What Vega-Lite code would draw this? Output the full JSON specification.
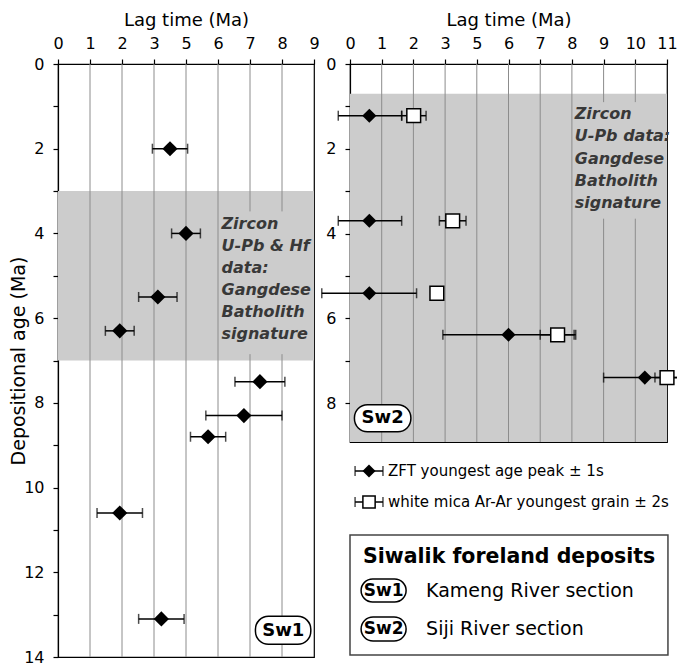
{
  "$schema": "https://vega.github.io/schema/vega-lite/v6.json",
  "padding": {"left": 9, "top": 10, "right": 0, "bottom": 0},
  "background": "white",
  "config": {
    "font": "DejaVu Sans",
    "view": {"stroke": "black", "strokeWidth": 1.2},
    "axis": {
      "grid": false, "domainColor": "black", "tickColor": "black", "labelColor": "black", "titleColor": "black",
      "labelFont": "DejaVu Sans", "titleFont": "DejaVu Sans", "labelFontSize": 16, "titleFontSize": 18,
      "titleFontWeight": "normal", "tickSize": 5, "domainWidth": 1.2, "tickWidth": 1.2, "labelOverlap": false
    }
  },
  "datasets": {
    "sw1": [
      {"age": 2.0, "lag": 3.5, "lo": 2.95, "hi": 4.05},
      {"age": 4.0, "lag": 4.0, "lo": 3.55, "hi": 4.45},
      {"age": 5.5, "lag": 3.12, "lo": 2.52, "hi": 3.72},
      {"age": 6.3, "lag": 1.93, "lo": 1.48, "hi": 2.38},
      {"age": 7.5, "lag": 6.31, "lo": 5.53, "hi": 7.09},
      {"age": 8.3, "lag": 5.81, "lo": 4.62, "hi": 7.0},
      {"age": 8.8, "lag": 4.69, "lo": 4.14, "hi": 5.24},
      {"age": 10.6, "lag": 1.93, "lo": 1.22, "hi": 2.64},
      {"age": 13.1, "lag": 3.23, "lo": 2.52, "hi": 3.94}
    ],
    "sw2": [
      {"age": 1.22, "method": "ZFT", "lag": 0.61, "lo": -0.37, "hi": 1.63},
      {"age": 1.22, "method": "mica", "lag": 2.01, "lo": 1.63, "hi": 2.4},
      {"age": 3.7, "method": "ZFT", "lag": 0.61, "lo": -0.37, "hi": 1.63},
      {"age": 3.7, "method": "mica", "lag": 3.24, "lo": 2.82, "hi": 3.66},
      {"age": 5.41, "method": "ZFT", "lag": 0.61, "lo": -0.89, "hi": 2.1},
      {"age": 5.41, "method": "mica", "lag": 2.74, "lo": 2.74, "hi": 2.74},
      {"age": 6.39, "method": "ZFT", "lag": 5.0, "lo": 2.93, "hi": 7.07},
      {"age": 6.39, "method": "mica", "lag": 6.55, "lo": 6.0, "hi": 7.12},
      {"age": 7.4, "method": "ZFT", "lag": 9.3, "lo": 8.0, "hi": 10.6},
      {"age": 7.4, "method": "mica", "lag": 10.0, "lo": 9.62, "hi": 10.38}
    ],
    "grid1": [
      {"lag": 1, "age": 0, "age2": 14},
      {"lag": 2, "age": 0, "age2": 14},
      {"lag": 3, "age": 0, "age2": 14},
      {"lag": 4, "age": 0, "age2": 14},
      {"lag": 5, "age": 0, "age2": 14},
      {"lag": 6, "age": 0, "age2": 3.48},
      {"lag": 6, "age": 6.85, "age2": 14},
      {"lag": 7, "age": 0, "age2": 3.48},
      {"lag": 7, "age": 6.85, "age2": 14}
    ],
    "grid2": [
      {"lag": 1, "age": 0, "age2": 8.92},
      {"lag": 2, "age": 0, "age2": 8.92},
      {"lag": 3, "age": 0, "age2": 8.92},
      {"lag": 4, "age": 0, "age2": 8.92},
      {"lag": 5, "age": 0, "age2": 8.92},
      {"lag": 6, "age": 0, "age2": 8.92},
      {"lag": 7, "age": 0, "age2": 8.92},
      {"lag": 8, "age": 0, "age2": 0.9},
      {"lag": 8, "age": 3.65, "age2": 8.92},
      {"lag": 9, "age": 0, "age2": 0.9},
      {"lag": 9, "age": 3.65, "age2": 8.92}
    ]
  },
  "bounds": "flush",
  "spacing": 36,
  "hconcat": [
    {
      "width": 256,
      "height": 593,
      "layer": [
        {
          "data": {"values": [{"lag": 0, "lag2": 8, "age": 3, "age2": 7}]},
          "mark": {"type": "rect", "color": "#cccccc"},
          "encoding": {
            "x": {"field": "lag", "type": "quantitative", "title": "Lag time (Ma)",
              "scale": {"domain": [0, 8], "nice": false, "zero": false},
              "axis": {"orient": "top", "values": [0, 1, 2, 3, 4, 5, 6, 7, 8], "tickCount": 30, "labelExpr": "'' + (datum.value >= 4 ? datum.value + 1 : datum.value)", "labelPadding": 8, "titlePadding": 6, "labelFlush": false, "labelOverlap": false, "labelBound": false}},
            "x2": {"field": "lag2"},
            "y": {"field": "age", "type": "quantitative", "title": "Depositional age (Ma)",
              "scale": {"domain": [0, 14], "reverse": true, "nice": false, "zero": false},
              "axis": {"values": [0, 1, 2, 3, 4, 5, 6, 7, 8, 9, 10, 11, 12, 13, 14], "tickCount": 30, "format": "d", "labelExpr": "datum.value % 2 == 0 ? '' + datum.value : ''", "labelPadding": 9, "titlePadding": -5, "titleFontSize": 19, "labelFlush": false, "labelOverlap": false}},
            "y2": {"field": "age2"}
          }
        },
        {
          "data": {"name": "grid1"},
          "mark": {"type": "rule", "color": "#8c8c8c", "strokeWidth": 1},
          "encoding": {
            "x": {"field": "lag", "type": "quantitative", "title": "Lag time (Ma)"},
            "y": {"field": "age", "type": "quantitative", "title": "Depositional age (Ma)"},
            "y2": {"field": "age2"}
          }
        },
        {
          "data": {"values": [{"lag": 5.11, "age": 3.77, "t": "Zircon\nU-Pb & Hf\ndata:\nGangdese\nBatholith\nsignature"}]},
          "mark": {"type": "text", "lineBreak": "\n", "lineHeight": 22, "align": "left", "baseline": "middle", "fontSize": 16, "fontWeight": "bold", "fontStyle": "italic", "color": "#383838"},
          "encoding": {
            "x": {"field": "lag", "type": "quantitative", "title": "Lag time (Ma)"},
            "y": {"field": "age", "type": "quantitative", "title": "Depositional age (Ma)"},
            "text": {"field": "t"}
          }
        },
        {
          "data": {"name": "sw1"},
          "mark": {"type": "rule", "color": "black", "strokeWidth": 1.5},
          "encoding": {
            "x": {"field": "lo", "type": "quantitative", "title": "Lag time (Ma)"},
            "x2": {"field": "hi"},
            "y": {"field": "age", "type": "quantitative", "title": "Depositional age (Ma)"}
          }
        },
        {
          "data": {"name": "sw1"},
          "mark": {"type": "tick", "orient": "vertical", "color": "black", "size": 10, "thickness": 1.5},
          "encoding": {
            "x": {"field": "lo", "type": "quantitative", "title": "Lag time (Ma)"},
            "y": {"field": "age", "type": "quantitative", "title": "Depositional age (Ma)"}
          }
        },
        {
          "data": {"name": "sw1"},
          "mark": {"type": "tick", "orient": "vertical", "color": "black", "size": 10, "thickness": 1.5},
          "encoding": {
            "x": {"field": "hi", "type": "quantitative", "title": "Lag time (Ma)"},
            "y": {"field": "age", "type": "quantitative", "title": "Depositional age (Ma)"}
          }
        },
        {
          "data": {"name": "sw1"},
          "mark": {"type": "point", "shape": "diamond", "filled": true, "color": "black", "opacity": 1, "size": 230},
          "encoding": {
            "x": {"field": "lag", "type": "quantitative", "title": "Lag time (Ma)"},
            "y": {"field": "age", "type": "quantitative", "title": "Depositional age (Ma)"}
          }
        },
        {
          "data": {"values": [{"lag": 6.17, "lag2": 7.9, "age": 13.04, "age2": 13.7}]},
          "mark": {"type": "rect", "fill": "white", "stroke": "black", "strokeWidth": 1.5, "cornerRadius": 13},
          "encoding": {
            "x": {"field": "lag", "type": "quantitative", "title": "Lag time (Ma)"},
            "x2": {"field": "lag2"},
            "y": {"field": "age", "type": "quantitative", "title": "Depositional age (Ma)"},
            "y2": {"field": "age2"}
          }
        },
        {
          "data": {"values": [{"lag": 7.04, "age": 13.38, "t": "Sw1"}]},
          "mark": {"type": "text", "align": "center", "baseline": "middle", "fontSize": 18, "fontWeight": "bold", "color": "black"},
          "encoding": {
            "x": {"field": "lag", "type": "quantitative", "title": "Lag time (Ma)"},
            "y": {"field": "age", "type": "quantitative", "title": "Depositional age (Ma)"},
            "text": {"field": "t"}
          }
        }
      ]
    },
    {
      "bounds": "flush",
      "spacing": 17,
      "vconcat": [
        {
          "width": 317,
          "height": 378,
          "layer": [
            {
              "data": {"values": [{"lag": 0, "lag2": 10, "age": 0.7, "age2": 8.92}]},
              "mark": {"type": "rect", "color": "#cccccc"},
              "encoding": {
                "x": {"field": "lag", "type": "quantitative", "title": "Lag time (Ma)",
                  "scale": {"domain": [0, 10], "nice": false, "zero": false},
                  "axis": {"orient": "top", "values": [0, 1, 2, 3, 4, 5, 6, 7, 8, 9, 10], "tickCount": 30, "labelExpr": "'' + (datum.value >= 4 ? datum.value + 1 : datum.value)", "labelPadding": 8, "titlePadding": 6, "labelFlush": false, "labelOverlap": false, "labelBound": false}},
                "x2": {"field": "lag2"},
                "y": {"field": "age", "type": "quantitative", "title": null,
                  "scale": {"domain": [0, 8.92], "reverse": true, "nice": false, "zero": false},
                  "axis": {"values": [0, 1, 2, 3, 4, 5, 6, 7, 8], "tickCount": 30, "format": "d", "labelExpr": "datum.value % 2 == 0 ? '' + datum.value : ''", "labelPadding": 9, "labelFlush": false, "labelOverlap": false}},
                "y2": {"field": "age2"}
              }
            },
            {
              "data": {"name": "grid2"},
              "mark": {"type": "rule", "color": "#8c8c8c", "strokeWidth": 1},
              "encoding": {
                "x": {"field": "lag", "type": "quantitative", "title": "Lag time (Ma)"},
                "y": {"field": "age", "type": "quantitative", "title": null},
                "y2": {"field": "age2"}
              }
            },
            {
              "data": {"values": [{"lag": 7.09, "age": 1.18, "t": "Zircon\nU-Pb data:\nGangdese\nBatholith\nsignature"}]},
              "mark": {"type": "text", "lineBreak": "\n", "lineHeight": 22.3, "align": "left", "baseline": "middle", "fontSize": 16, "fontWeight": "bold", "fontStyle": "italic", "color": "#383838"},
              "encoding": {
                "x": {"field": "lag", "type": "quantitative", "title": "Lag time (Ma)"},
                "y": {"field": "age", "type": "quantitative", "title": null},
                "text": {"field": "t"}
              }
            },
            {
              "data": {"name": "sw2"},
              "mark": {"type": "rule", "color": "black", "strokeWidth": 1.5},
              "encoding": {
                "x": {"field": "lo", "type": "quantitative", "title": "Lag time (Ma)"},
                "x2": {"field": "hi"},
                "y": {"field": "age", "type": "quantitative", "title": null}
              }
            },
            {
              "data": {"name": "sw2"},
              "mark": {"type": "tick", "orient": "vertical", "color": "black", "size": 10, "thickness": 1.5},
              "encoding": {
                "x": {"field": "lo", "type": "quantitative", "title": "Lag time (Ma)"},
                "y": {"field": "age", "type": "quantitative", "title": null}
              }
            },
            {
              "data": {"name": "sw2"},
              "mark": {"type": "tick", "orient": "vertical", "color": "black", "size": 10, "thickness": 1.5},
              "encoding": {
                "x": {"field": "hi", "type": "quantitative", "title": "Lag time (Ma)"},
                "y": {"field": "age", "type": "quantitative", "title": null}
              }
            },
            {
              "data": {"name": "sw2"},
              "transform": [{"filter": "datum.method == 'mica'"}],
              "mark": {"type": "point", "shape": "square", "filled": true, "fill": "white", "stroke": "black", "strokeWidth": 1.5, "opacity": 1, "size": 190},
              "encoding": {
                "x": {"field": "lag", "type": "quantitative", "title": "Lag time (Ma)"},
                "y": {"field": "age", "type": "quantitative", "title": null}
              }
            },
            {
              "data": {"name": "sw2"},
              "transform": [{"filter": "datum.method == 'ZFT'"}],
              "mark": {"type": "point", "shape": "diamond", "filled": true, "color": "black", "opacity": 1, "size": 200},
              "encoding": {
                "x": {"field": "lag", "type": "quantitative", "title": "Lag time (Ma)"},
                "y": {"field": "age", "type": "quantitative", "title": null}
              }
            },
            {
              "data": {"values": [{"lag": 0.14, "lag2": 1.92, "age": 8.04, "age2": 8.68}]},
              "mark": {"type": "rect", "fill": "white", "stroke": "black", "strokeWidth": 1.5, "cornerRadius": 13},
              "encoding": {
                "x": {"field": "lag", "type": "quantitative", "title": "Lag time (Ma)"},
                "x2": {"field": "lag2"},
                "y": {"field": "age", "type": "quantitative", "title": null},
                "y2": {"field": "age2"}
              }
            },
            {
              "data": {"values": [{"lag": 1.03, "age": 8.36, "t": "Sw2"}]},
              "mark": {"type": "text", "align": "center", "baseline": "middle", "fontSize": 18, "fontWeight": "bold", "color": "black"},
              "encoding": {
                "x": {"field": "lag", "type": "quantitative", "title": "Lag time (Ma)"},
                "y": {"field": "age", "type": "quantitative", "title": null},
                "text": {"field": "t"}
              }
            }
          ]
        },
        {
          "width": 317,
          "height": 200,
          "view": {"stroke": null},
          "encoding": {
            "x": {"field": "x", "type": "quantitative", "axis": null, "scale": {"domain": [0, 10], "nice": false, "zero": false}},
            "y": {"field": "y", "type": "quantitative", "axis": null, "scale": {"domain": [0, 10], "reverse": true, "nice": false, "zero": false}}
          },
          "layer": [
            {
              "data": {"values": [{"x": 0.16, "x2": 1.04, "y": 0.6}, {"x": 0.16, "x2": 1.04, "y": 2.15}]},
              "mark": {"type": "rule", "color": "black", "strokeWidth": 1.5},
              "encoding": {"x2": {"field": "x2"}}
            },
            {
              "data": {"values": [{"x": 0.16, "y": 0.6}, {"x": 1.04, "y": 0.6}, {"x": 0.16, "y": 2.15}, {"x": 1.04, "y": 2.15}]},
              "mark": {"type": "tick", "orient": "vertical", "color": "black", "size": 10, "thickness": 1.5}
            },
            {
              "data": {"values": [{"x": 0.6, "y": 0.6}]},
              "mark": {"type": "point", "shape": "diamond", "filled": true, "color": "black", "opacity": 1, "size": 170}
            },
            {
              "data": {"values": [{"x": 0.6, "y": 2.15}]},
              "mark": {"type": "point", "shape": "square", "filled": true, "fill": "white", "stroke": "black", "strokeWidth": 1.5, "opacity": 1, "size": 150}
            },
            {
              "data": {"values": [{"x": 1.2, "y": 0.6, "t": "ZFT youngest age peak ± 1s"}, {"x": 1.2, "y": 2.15, "t": "white mica Ar-Ar youngest grain ± 2s"}]},
              "mark": {"type": "text", "align": "left", "baseline": "middle", "fontSize": 15, "color": "black"},
              "encoding": {"text": {"field": "t"}}
            },
            {
              "data": {"values": [{"x": 0, "x2": 10.03, "y": 3.8, "y2": 9.8}]},
              "mark": {"type": "rect", "fill": "white", "stroke": "#444444", "strokeWidth": 1.5},
              "encoding": {"x2": {"field": "x2"}, "y2": {"field": "y2"}}
            },
            {
              "data": {"values": [{"x": 5.02, "y": 4.9, "t": "Siwalik foreland deposits"}]},
              "mark": {"type": "text", "align": "center", "baseline": "middle", "fontSize": 20.5, "fontWeight": "bold", "color": "black"},
              "encoding": {"text": {"field": "t"}}
            },
            {
              "data": {"values": [{"x": 0.35, "x2": 1.77, "y": 6.0, "y2": 7.15}, {"x": 0.35, "x2": 1.77, "y": 7.9, "y2": 9.1}]},
              "mark": {"type": "rect", "fill": "white", "stroke": "black", "strokeWidth": 1.5, "cornerRadius": 12},
              "encoding": {"x2": {"field": "x2"}, "y2": {"field": "y2"}}
            },
            {
              "data": {"values": [{"x": 1.06, "y": 6.58, "t": "Sw1"}, {"x": 1.06, "y": 8.5, "t": "Sw2"}]},
              "mark": {"type": "text", "align": "center", "baseline": "middle", "fontSize": 17, "fontWeight": "bold", "color": "black"},
              "encoding": {"text": {"field": "t"}}
            },
            {
              "data": {"values": [{"x": 2.4, "y": 6.58, "t": "Kameng River section"}, {"x": 2.4, "y": 8.5, "t": "Siji River section"}]},
              "mark": {"type": "text", "align": "left", "baseline": "middle", "fontSize": 19, "color": "black"},
              "encoding": {"text": {"field": "t"}}
            }
          ]
        }
      ]
    }
  ]
}
